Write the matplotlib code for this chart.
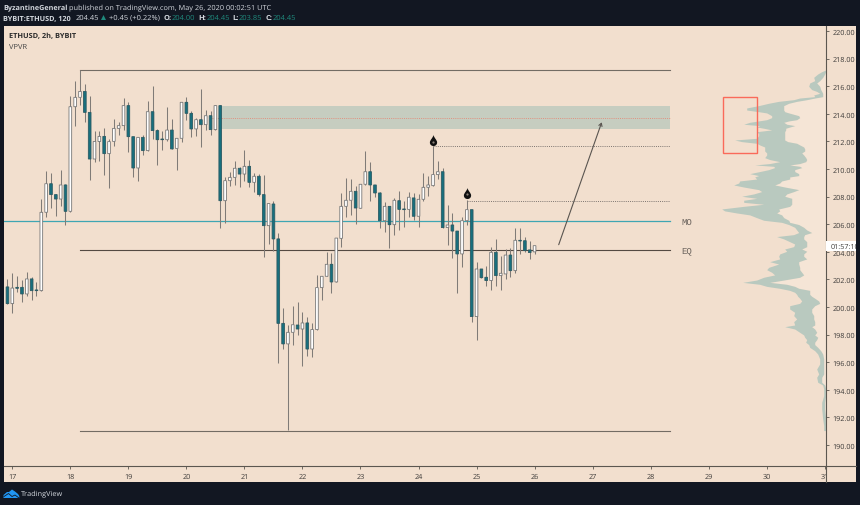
import matplotlib
matplotlib.use("Agg")
import matplotlib.pyplot as plt
import numpy as np
from matplotlib.patches import Polygon, Rectangle
from matplotlib.path import Path
from matplotlib.transforms import Bbox

W, H = 860, 506
plt.rcParams["font.family"] = ["Open Sans", "DejaVu Sans"]
plt.rcParams["text.hinting"] = "none"

# 2h bars
opens = [201.46, 200.25, 201.43, 201.43, 200.95, 202.04, 201.24, 201.19, 206.87, 208.94,
         208.15, 207.83, 208.85, 206.94, 214.52, 215.2, 215.63, 214.11, 210.73, 212.0,
         212.37, 211.12, 212.01, 212.95, 213.15, 214.6, 212.35, 210.08, 212.3, 211.34,
         214.16, 212.79, 212.18, 212.13, 212.83, 211.5, 212.23, 214.84, 214.04, 212.91,
         213.58, 213.22, 213.87, 212.86, 214.6, 207.71, 209.16, 209.4, 210.06, 209.64,
         210.2, 209.04, 209.48, 208.15, 205.9, 207.47, 204.94, 198.82, 197.33, 198.17,
         198.7, 198.41, 198.85, 196.96, 198.37, 201.41, 202.23, 203.1, 201.82, 204.98,
         207.3, 207.74, 208.39, 207.16, 208.9, 209.81, 208.85, 208.27, 206.26, 207.3,
         205.97, 207.71, 207.11, 207.08, 207.91, 206.58, 207.81, 208.68, 208.8, 209.6,
         209.81, 205.76, 205.95, 205.51, 203.85, 206.26, 207.06, 199.31, 202.76, 202.16,
         201.92, 203.97, 202.28, 202.4, 203.77, 202.64, 204.84, 204.81, 204.14, 204.0]
highs = [202.04, 202.45, 202.23, 201.96, 202.52, 202.16, 201.8, 207.83, 209.89, 209.72,
         208.2, 209.96, 208.92, 215.32, 216.41, 217.18, 216.17, 215.32, 212.78, 212.78,
         212.95, 212.18, 213.63, 213.39, 215.13, 214.89, 212.35, 212.3, 212.47, 214.96,
         216.0, 212.91, 212.79, 214.48, 213.63, 212.23, 214.89, 215.2, 214.24, 213.68,
         215.8, 214.3, 214.24, 214.65, 214.65, 209.4, 209.81, 210.61, 210.13, 211.38,
         210.66, 209.72, 209.65, 209.6, 207.5, 207.7, 205.37, 199.96, 198.7, 200.05,
         200.4, 199.62, 199.26, 198.85, 202.33, 202.23, 203.97, 203.92, 205.0, 208.24,
         209.33, 209.28, 208.8, 208.92, 211.34, 210.49, 208.85, 208.32, 207.59, 207.35,
         207.91, 208.39, 207.71, 208.37, 208.27, 208.2, 209.69, 209.52, 211.65, 210.56,
         210.06, 207.4, 206.8, 205.54, 206.5, 207.74, 207.06, 203.24, 202.76, 202.95,
         204.33, 204.93, 203.72, 204.21, 204.26, 205.73, 205.73, 205.06, 204.81, 204.45]
lows = [200.2, 199.57, 201.12, 200.39, 200.78, 200.51, 200.78, 201.19, 206.5, 207.18,
        206.63, 207.35, 205.97, 206.92, 213.15, 214.65, 213.39, 209.23, 210.54, 210.61,
        209.57, 208.6, 211.7, 212.47, 212.86, 211.26, 209.45, 209.16, 211.05, 211.3,
        212.18, 210.32, 211.41, 212.06, 211.46, 209.96, 211.94, 213.58, 212.35, 212.42,
        211.58, 212.86, 212.47, 212.86, 205.7, 206.1, 208.75, 208.85, 208.73, 209.16,
        208.68, 208.32, 208.08, 203.6, 204.6, 204.09, 195.95, 196.96, 191.1, 197.25,
        197.98, 195.71, 196.43, 196.36, 198.37, 200.51, 202.23, 201.0, 201.82, 204.38,
        206.5, 206.67, 206.02, 207.16, 208.85, 207.7, 207.95, 205.71, 205.42, 204.26,
        205.22, 205.61, 205.83, 206.5, 206.34, 205.83, 207.71, 208.07, 208.8, 209.28,
        205.76, 204.52, 203.53, 201.02, 202.88, 205.97, 198.94, 197.62, 202.13, 201.55,
        201.24, 201.55, 201.26, 202.04, 202.16, 202.45, 203.85, 204.02, 203.5, 203.85]
closes = [200.25, 201.38, 201.36, 200.95, 202.04, 201.19, 201.19, 206.87, 208.94, 208.15,
          207.83, 208.85, 206.94, 214.52, 215.2, 215.63, 214.11, 210.73, 212.0, 212.37,
          211.12, 211.99, 212.95, 213.15, 214.6, 212.35, 210.08, 212.3, 211.34, 214.16,
          212.79, 212.13, 212.13, 212.83, 211.46, 212.23, 214.84, 214.04, 212.91, 213.58,
          213.22, 213.87, 212.86, 214.6, 207.71, 209.16, 209.4, 210.06, 209.64, 210.2,
          209.04, 209.48, 208.15, 205.9, 207.5, 204.94, 198.82, 197.33, 198.17, 198.72,
          198.41, 198.85, 196.96, 198.37, 201.41, 202.23, 203.1, 201.82, 205.0, 207.3,
          207.74, 208.39, 207.18, 208.9, 209.81, 208.85, 208.27, 206.26, 207.3, 205.97,
          207.74, 207.08, 207.06, 207.96, 206.58, 207.81, 208.68, 208.85, 209.6, 209.81,
          205.76, 205.95, 205.51, 203.85, 206.26, 207.06, 199.31, 202.76, 202.13, 201.92,
          203.97, 202.28, 202.45, 203.77, 202.64, 204.84, 204.79, 204.09, 203.95, 204.45]

# visible range volume profile: price level, total length, length of the inner (pale) part
vp_price = [217.18, 217.06, 216.89, 216.65, 216.41, 216.24, 216.0, 215.76, 215.63, 215.49,
            215.37, 215.25, 215.15, 215.03, 214.91, 214.77, 214.6, 214.43, 214.28, 214.16,
            214.07, 213.87, 213.73, 213.58, 213.49, 213.39, 213.25, 213.15, 213.05, 212.96,
            212.84, 212.71, 212.57, 212.42, 212.23, 212.11, 211.99, 211.87, 211.75, 211.6,
            211.46, 211.31, 211.17, 211.02, 210.83, 210.69, 210.54, 210.4, 210.3, 210.2,
            210.11, 209.96, 209.82, 209.67, 209.53, 209.43, 209.28, 209.14, 208.99, 208.85,
            208.7, 208.51, 208.37, 208.2, 208.03, 207.88, 207.74, 207.59, 207.45, 207.3,
            207.11, 206.97, 206.82, 206.68, 206.48, 206.29, 206.14, 205.98, 205.78, 205.59,
            205.4, 205.25, 205.11, 204.94, 204.74, 204.57, 204.38, 204.21, 204.04, 203.85,
            203.68, 203.49, 203.29, 203.12, 202.88, 202.71, 202.52, 202.33, 202.16, 201.96,
            201.79, 201.65, 201.5, 201.36, 201.21, 201.07, 200.92, 200.78, 200.64, 200.44,
            200.27, 200.1, 199.86, 199.62, 199.38, 199.14, 198.94, 198.7, 198.58, 198.41,
            198.17, 197.98, 197.81, 197.64, 197.45, 197.28, 197.08, 196.84, 196.6, 196.24,
            195.88, 195.51, 195.15, 194.91, 194.55, 194.35, 194.07, 193.58, 193.1, 192.62,
            191.89, 191.41, 191.05]
vp_total = [0, 4, 8, 12, 11, 16, 17, 14, 9, 6,
            12, 11, 26, 32, 47, 57, 67, 79, 79, 67,
            59, 54, 54, 59, 67, 76, 82, 66, 69, 62,
            54, 69, 67, 67, 69, 91, 84, 69, 66, 61,
            61, 61, 59, 59, 61, 56, 46, 56, 71, 52,
            51, 57, 66, 76, 67, 71, 69, 86, 87, 92,
            82, 67, 64, 72, 84, 69, 82, 82, 62, 82,
            104, 101, 89, 76, 69, 62, 44, 37, 31, 29,
            27, 32, 49, 42, 36, 31, 32, 41, 39, 46,
            47, 46, 56, 47, 57, 59, 54, 51, 62, 69,
            83, 66, 59, 46, 36, 31, 29, 28, 26, 24,
            26, 36, 36, 31, 32, 29, 32, 31, 41, 31,
            26, 22, 21, 19, 20, 17, 16, 11, 8, 6,
            6, 9, 7, 9, 8, 3, 2, 2, 4, 4,
            3, 2, 2]
vp_inner = [0, 0, 1, 3, 6, 9, 6, 5, 4, 3,
            3, 3, 11, 19, 29, 37, 42, 42, 42, 41,
            37, 27, 26, 29, 37, 42, 39, 31, 36, 40,
            40, 41, 41, 41, 41, 41, 38, 29, 26, 22,
            21, 21, 24, 22, 20, 19, 20, 26, 36, 26,
            24, 31, 31, 27, 27, 36, 36, 44, 46, 51,
            41, 27, 32, 39, 41, 34, 34, 34, 34, 36,
            47, 46, 49, 44, 42, 37, 36, 27, 22, 19,
            14, 21, 22, 22, 19, 19, 19, 24, 19, 22,
            22, 19, 27, 27, 26, 26, 24, 22, 26, 42,
            56, 39, 31, 27, 16, 16, 16, 14, 11, 7,
            6, 11, 14, 14, 12, 12, 11, 11, 14, 11,
            9, 11, 8, 9, 11, 11, 8, 5, 3, 2,
            2, 2, 2, 4, 4, 1, 0, 0, 1, 1,
            0, 0, 0]

price_ticks = list(range(190, 222, 2))
day_ticks = list(range(17, 32))

# drawn levels
top_level = 217.18
bottom_level = 191.05
eq_level = 204.14
mo_level = 206.22
zone_low, zone_mid, zone_high = 212.9, 213.73, 214.57
dotted_levels = [211.65, 207.71]
dotted_starts = [24.25, 24.83]
line_start, line_end = 18.167, 28.33
zone_start = 20.58
arrow_from = (26.416, 204.52)
arrow_to = (27.157, 213.39)
drop_days = [24.25, 24.83]
drop_prices = [212.11, 208.3]
box_days = (29.25, 29.84)
box_prices = (211.16, 215.2)

DARK = "#121722"
PANEL = "#f2dfce"
TEAL = "#17707e"
GREY = "#3c3a38"
HEAD = "#d4d8de"
HEAD_TEAL = "#1f8a7d"

bars_x = 17 - 1 / 12 + np.arange(len(opens)) / 12


def px_axes(z):
    a = fig.add_axes([0, 0, 1, 1], zorder=z)
    a.set_xlim(0, W)
    a.set_ylim(H, 0)
    a.axis("off")
    return a


fig = plt.figure(figsize=(W / 100, H / 100), dpi=100, facecolor=DARK)
back = px_axes(0)
back.add_patch(Rectangle((4, 27), 851.7, 456, facecolor=PANEL, edgecolor="none"))

pos = [4 / W, 1 - 467.3 / H, 821.7 / W, 440.3 / H]
ylim = (188.46, 220.37)

# profile in its own axes, 1 volume unit = 1 px from the price scale
ax_vp = fig.add_axes(pos, zorder=1, facecolor="none")
ax_vp.set_xlim(821.7, 0)
ax_vp.set_ylim(*ylim)
ax_vp.axis("off")
ax_vp.fill_betweenx(vp_price, vp_inner, 0, color="#f5e5d6", lw=0)
ax_vp.fill_betweenx(vp_price, vp_total, vp_inner, color="#b9c9bf", lw=0)

ax = fig.add_axes(pos, zorder=2, facecolor="none")
ax.set_xlim(16.857, 31.017)
ax.set_ylim(*ylim)

ax.add_patch(Rectangle((zone_start, zone_low), line_end - zone_start, zone_high - zone_low,
                       facecolor="#c6cdc0", edgecolor="none", zorder=1))
ax.plot([20.42, line_end], [zone_mid, zone_mid], color="#e0917f", lw=0.7, ls=(0, (1, 1.2)), zorder=2)
ax.plot([line_start, line_end], [top_level, top_level], color="#736c64", lw=0.8, zorder=2)
ax.plot([line_start, line_end], [bottom_level, bottom_level], color="#736c64", lw=0.8, zorder=2)
ax.plot([line_start, line_end], [eq_level, eq_level], color="#544a42", lw=0.8, zorder=2)
ax.plot([16.857, line_end], [mo_level, mo_level], color="#3fa6b3", lw=0.9, zorder=2)
for lev, st in zip(dotted_levels, dotted_starts):
    ax.plot([st, line_end], [lev, lev], color="#7d7570", lw=0.7, ls=(0, (1, 1.2)), zorder=2)
ax.annotate("", xy=arrow_to, xytext=arrow_from,
            arrowprops=dict(arrowstyle="->,head_length=0.2,head_width=0.12", color="#5a5550",
                            lw=0.8, shrinkA=0, shrinkB=0), zorder=6)
ax.text(28.53, mo_level, "MO", family="Liberation Mono", fontsize=6.5, color="#6a625c", va="center")
ax.text(28.53, eq_level, "EQ", family="Liberation Mono", fontsize=6.5, color="#6a625c", va="center")

# candles
up = np.array(closes) >= np.array(opens)
ax.vlines(bars_x, lows, highs, color="#807b77", lw=0.75, zorder=3)
body_low = np.minimum(opens, closes)
body_h = np.maximum(np.abs(np.array(closes) - np.array(opens)), 0.05)
bodies = ax.bar(bars_x, body_h, bottom=body_low, width=0.046, color=np.where(up, "white", TEAL),
                edgecolor=np.where(up, "#777777", "#2c5a63"), linewidth=0.6, zorder=4)
for b in bodies:
    b.set_snap(False)

# flame marks
drop = Path([(0, 1), (0.1, 0.45), (0.65, 0.1), (0.65, -0.35), (0.65, -0.8), (0.3, -1), (0, -1),
             (-0.3, -1), (-0.65, -0.8), (-0.65, -0.35), (-0.65, 0.1), (-0.1, 0.45), (0, 1)],
            [Path.MOVETO] + [Path.CURVE4] * 12)
ax.plot(drop_days, drop_prices, ls="none", marker=drop, ms=8, color="#111111", mew=0, zorder=5)
ax.plot(drop_days, [p - 0.13 for p in drop_prices], ls="none", marker="o", ms=1.6,
        color="#8a8078", mew=0, zorder=6)

ax.add_patch(Rectangle((box_days[0], box_prices[0]), box_days[1] - box_days[0],
                       box_prices[1] - box_prices[0], fill=False, edgecolor="#fa6a5a", lw=1.0, zorder=5))

ax.yaxis.tick_right()
ax.set_yticks(price_ticks, [f"{p:.2f}" for p in price_ticks])
ax.set_xticks(day_ticks, [str(d) for d in day_ticks])
ax.tick_params(axis="both", length=2.2, width=0.6, color="#5c5750", labelcolor=GREY, labelsize=5.2, pad=2.5)
for s in ("top", "left"):
    ax.spines[s].set_visible(False)
for s in ("right", "bottom"):
    ax.spines[s].set_color("#5c5750")
    ax.spines[s].set_linewidth(0.8)

# the last date label is cut by the price scale
lab31 = ax.get_xticklabels()[-1]
lab31.set_clip_on(True)
lab31.set_clip_box(Bbox([[0, 0], [825.7, H]]))

# overlay: header, tag, logo
top = px_axes(5)
top.plot([825.7, 825.7], [467, 483], color="#5c5750", lw=0.8)
top.plot([825.7, 855.7], [467.3, 467.3], color="#5c5750", lw=0.8)
top.add_patch(Rectangle((826.2, 241.7), 29.5, 10, facecolor="white", edgecolor="none"))
tag = top.text(831, 246.7, "01:57:10", fontsize=5.2, color=GREY, va="center", clip_on=True)
tag.set_clip_box(Bbox([[826, 0], [855.7, H]]))

top.text(3.3, 8, "ByzantineGeneral", fontsize=5.2, fontweight="bold", color=HEAD, va="center")
top.text(69.3, 8, "published on TradingView.com, May 26, 2020 00:02:51 UTC", fontsize=5.3, color=HEAD, va="center")
top.text(3.3, 18.5, "BYBIT:ETHUSD, 120", fontsize=5.2, fontweight="bold", color=HEAD, va="center")
top.text(76, 18.5, "204.45", fontsize=5.4, color=HEAD, va="center")
top.add_patch(Polygon([(101, 21), (106, 21), (103.5, 16)], facecolor=HEAD_TEAL, edgecolor="none"))
top.text(109, 18.5, "+0.45 (+0.22%)", fontsize=5.4, color=HEAD, va="center")
for x, s in zip([164, 198, 232, 266], ["O:", "H:", "L:", "C:"]):
    top.text(x, 18.5, s, fontsize=5.4, fontweight="bold", color=HEAD, va="center")
for x, s in zip([172, 207, 239, 273], ["204.00", "204.45", "203.85", "204.45"]):
    top.text(x, 18.5, s, fontsize=5.4, color=HEAD_TEAL, va="center")
top.text(9.3, 36.5, "ETHUSD, 2h, BYBIT", fontsize=5.3, fontweight="bold", color="#2c2c2c", va="center")
top.text(9.3, 47, "VPVR", fontsize=5.4, color="#444444", va="center")

# logo
top.add_patch(Polygon([(3.5, 499), (3.5, 496), (7, 493), (9, 493), (12, 490.5), (15, 492.5),
                       (18, 495), (19.3, 497), (19.3, 499)], facecolor="#2196f3", edgecolor="none"))
top.plot([4, 8.5, 12, 15, 19], [497.5, 494.5, 497.5, 496, 499], color=DARK, lw=0.6)
top.text(21, 495, "TradingView", fontsize=5.3, color=HEAD, va="center")

fig.savefig("out.png", dpi=100, facecolor=DARK)
